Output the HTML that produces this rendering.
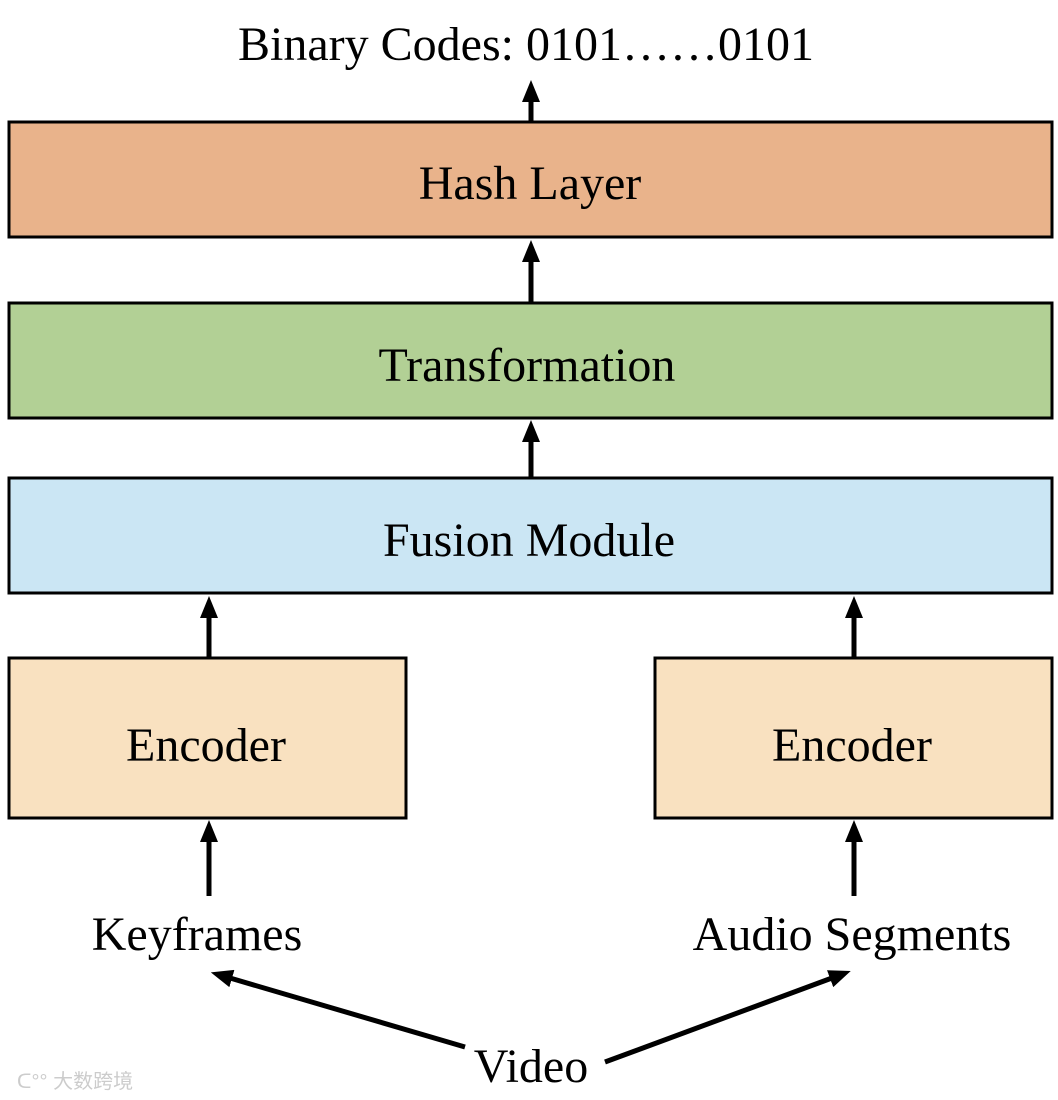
<!DOCTYPE html>
<html><head><style>body{margin:0;background:#fff}svg{display:block}</style></head><body>
<svg width="1058" height="1100" viewBox="0 0 1058 1100" xmlns="http://www.w3.org/2000/svg" font-family="'Liberation Serif', serif" font-size="48" text-anchor="middle">
<defs>
<marker id="h" markerWidth="22" markerHeight="18" refX="2" refY="9" orient="auto" markerUnits="userSpaceOnUse"><path d="M0,0 L22,9 L0,18 z" fill="#000"/></marker></defs>
<g stroke="#000" stroke-width="3">
<rect x="9" y="122" width="1043" height="115" fill="#e9b38b"/>
<rect x="9" y="303" width="1043" height="115" fill="#b2d095"/>
<rect x="9" y="478" width="1043" height="115" fill="#cbe6f4"/>
<rect x="9" y="658" width="397" height="160" fill="#f9e1c0"/>
<rect x="655" y="658" width="397" height="160" fill="#f9e1c0"/>
</g>
<g stroke="#000" stroke-width="5" marker-end="url(#h)">
<line x1="531" y1="122" x2="531" y2="100"/>
<line x1="531" y1="303" x2="531" y2="260"/>
<line x1="531" y1="478" x2="531" y2="440"/>
<line x1="209" y1="658" x2="209" y2="616"/>
<line x1="854" y1="658" x2="854" y2="616"/>
<line x1="209" y1="896" x2="209" y2="840"/>
<line x1="854" y1="896" x2="854" y2="840"/>
<line x1="465" y1="1047" x2="230" y2="978"/>
<line x1="605" y1="1062" x2="832" y2="978"/>
</g>
<text x="526" y="60">Binary Codes: 0101……0101</text>
<text x="530" y="199">Hash Layer</text>
<text x="527" y="381">Transformation</text>
<text x="529" y="556">Fusion Module</text>
<text x="206" y="761">Encoder</text>
<text x="852" y="761">Encoder</text>
<text x="197" y="950">Keyframes</text>
<text x="852" y="950">Audio Segments</text>
<text x="531" y="1082">Video</text>
<text x="75" y="1088" font-size="20" fill="#ccc" font-family="'Liberation Sans','Noto Sans CJK SC',sans-serif">ᑕ°° 大数跨境</text>
</svg>
</body></html>
